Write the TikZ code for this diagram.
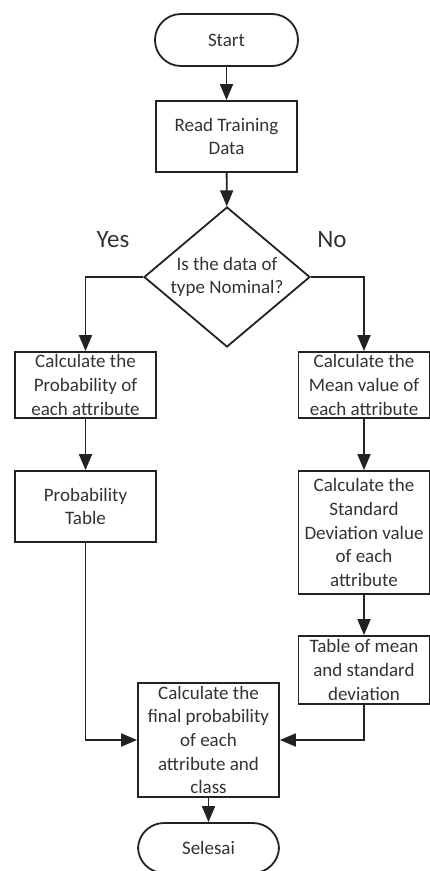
\documentclass[tikz,border=0pt]{standalone}
\usepackage{fontspec}
\setsansfont{Carlito}
\usepackage{tikz}
\usetikzlibrary{arrows.meta, positioning, shapes.geometric}
\definecolor{Ink}{HTML}{222222}
\definecolor{Txt}{HTML}{333333}

\begin{document}
\begin{tikzpicture}[
  x=1pt, y=-1pt,
  font=\sffamily\fontsize{19}{23.6}\selectfont,
  box/.style={draw=Ink, line width=1.8pt, align=center, inner sep=0pt, text=Txt, fill=white},
  proc/.style={box, minimum width=141pt},
  term/.style={box, minimum width=143pt, minimum height=52pt, rounded corners=26pt},
  decide/.style={box, diamond, aspect=1.19, minimum width=166pt, minimum height=140pt},
  answer/.style={font=\sffamily\fontsize{25}{28}\selectfont, text=Txt},
  arrow/.style={-{Triangle[length=16pt, width=13pt]}, line width=1.8pt, draw=Ink}
]
\useasboundingbox (0,0) rectangle (430,871);

\node[term] (start) at (226.5,40) {Start};
\node[proc, minimum width=141pt, minimum height=71pt] (read) at (226.5,136.5) {Read Training\\Data};
\node[decide] (nominal) at (227,277) {Is the data of\\type Nominal?};
\node[answer] (yes) at (113,240) {Yes};
\node[answer] (no) at (332,240) {No};

\node[proc, minimum height=66pt] (prob) at (85.5,385) {Calculate the\\Probability of\\each attribute};
\node[proc, minimum height=71pt] (ptable) at (85.5,506.5) {Probability\\Table};

\node[proc, minimum width=131pt, minimum height=66pt] (mean) at (364,385) {Calculate the\\Mean value of\\each attribute};
\node[proc, minimum width=131pt, minimum height=123pt] (std) at (364,532.5) {Calculate the\\Standard\\Deviation value\\of each\\attribute};
\node[proc, minimum width=131pt, minimum height=68pt] (mstable) at (364,670) {Table of mean\\and standard\\deviation};

\node[proc, minimum height=114pt] (final) at (208.5,740) {Calculate the\\final probability\\of each\\attribute and\\class};
\node[term, minimum width=141pt, minimum height=50pt] (done) at (208.5,848) {Selesai};

\draw[arrow] (start) -- (read);
\draw[arrow] (read) -- (nominal);
\draw[arrow] (nominal.west) -| (prob.north);
\draw[arrow] (nominal.east) -| (mean.north);
\draw[arrow] (prob) -- (ptable);
\draw[arrow] (mean) -- (std);
\draw[arrow] (std) -- (mstable);
\draw[arrow] (ptable.south) |- (final.west);
\draw[arrow] (mstable.south) |- (final.east);
\draw[arrow] (final) -- (done);
\end{tikzpicture}
\end{document}
